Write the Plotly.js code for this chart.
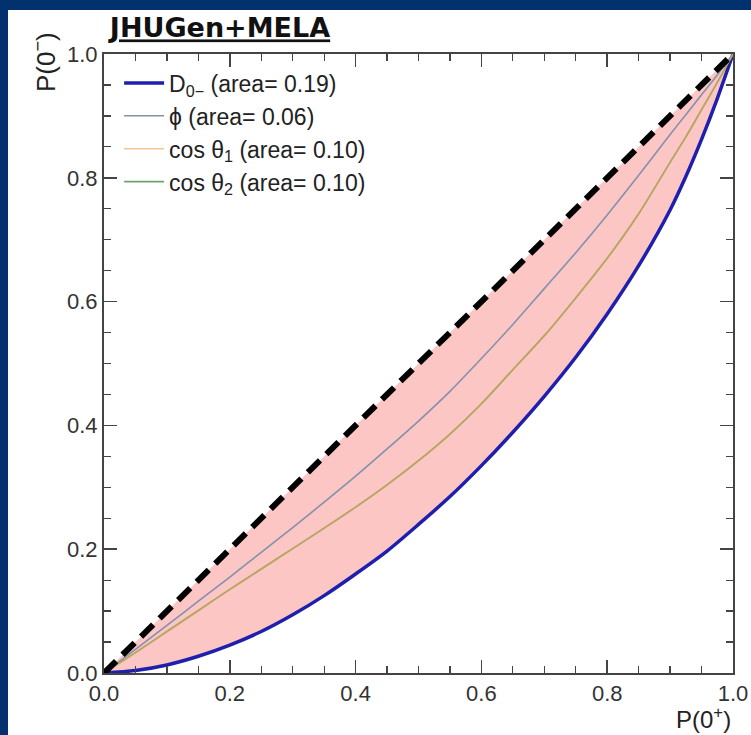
<!DOCTYPE html>
<html>
<head>
<meta charset="utf-8">
<script src="https://cdn.plot.ly/plotly-3.0.1.min.js"></script>
<style>html,body{margin:0;padding:0;background:#03306f;}</style>
</head>
<body>
<div id="chart" style="width:751px;height:735px;"></div>
<script>
// P(0+) sample points shared by the read-off curves
const pPlus = [0, 0.05, 0.1, 0.15, 0.2, 0.25, 0.3, 0.35, 0.4, 0.45, 0.5, 0.55, 0.6, 0.65, 0.7, 0.75, 0.8, 0.85, 0.9, 0.925, 0.95, 0.975, 1.0];
// P(0-) for each discriminant
const yD0m   = [0, 0.004, 0.013, 0.027, 0.045, 0.067, 0.094, 0.125, 0.160, 0.197, 0.240, 0.285, 0.335, 0.389, 0.447, 0.510, 0.580, 0.658, 0.748, 0.802, 0.862, 0.928, 1.0];
const yPhi   = [0, 0.038, 0.077, 0.116, 0.155, 0.195, 0.235, 0.276, 0.318, 0.362, 0.407, 0.455, 0.508, 0.563, 0.621, 0.679, 0.740, 0.804, 0.870, 0.902, 0.934, 0.966, 1.0];
const yCos1  = [0, 0.033, 0.067, 0.101, 0.135, 0.168, 0.201, 0.234, 0.268, 0.304, 0.343, 0.386, 0.435, 0.490, 0.545, 0.606, 0.670, 0.742, 0.825, 0.866, 0.910, 0.954, 1.0];
const yCos2  = [0, 0.033, 0.067, 0.101, 0.135, 0.168, 0.201, 0.234, 0.268, 0.304, 0.343, 0.386, 0.435, 0.490, 0.545, 0.606, 0.670, 0.742, 0.825, 0.866, 0.910, 0.954, 1.0];
// random-guess diagonal
const diagX = [0, 1];
const diagY = [0, 1];
// labels
const names = ['D<sub>0−</sub> (area= 0.19)', 'ϕ (area= 0.06)', 'cos θ<sub>1</sub> (area= 0.10)', 'cos θ<sub>2</sub> (area= 0.10)'];
const titleText = 'JHUGen+MELA';
const xTitle = 'P(0<sup>+</sup>)';
const yTitle = 'P(0<sup>−</sup>)';

const FONT = 'Liberation Sans, Arial, sans-serif';

const traces = [
  {x: diagX, y: diagY, mode: 'lines', line: {width: 0, color: 'rgba(0,0,0,0)'}, showlegend: false, hoverinfo: 'skip'},
  {x: pPlus, y: yD0m, mode: 'lines', fill: 'tonexty', fillcolor: 'rgb(251,198,195)',
   line: {width: 0, color: 'rgba(0,0,0,0)', shape: 'spline', smoothing: 0.8}, showlegend: false, hoverinfo: 'skip'},
  {x: pPlus, y: yD0m, mode: 'lines', name: names[0], line: {color: '#1f1fae', width: 3.5, shape: 'spline', smoothing: 0.8}, legendrank: 1},
  {x: pPlus, y: yPhi, mode: 'lines', name: names[1], line: {color: '#8490ad', width: 1.6, shape: 'spline', smoothing: 0.8}, legendrank: 2},
  {x: pPlus, y: yCos2, mode: 'lines', name: names[3], line: {color: '#6aa56a', width: 1.6, shape: 'spline', smoothing: 0.8}, legendrank: 4},
  {x: pPlus, y: yCos1, mode: 'lines', name: names[2], line: {color: '#e9a558', width: 1.6, shape: 'spline', smoothing: 0.8}, opacity: 0.65, legendrank: 3},
  {x: diagX, y: diagY, mode: 'lines', line: {color: '#000', width: 6, dash: '17px,9px'}, showlegend: false, hoverinfo: 'skip'}
];

function makeAxis() {
  return {
    range: [0, 1], showgrid: false, zeroline: false,
    showline: true, linecolor: '#444', linewidth: 2, mirror: 'allticks',
    ticks: 'inside', ticklen: 13, tickwidth: 1.5, tickcolor: '#444',
    tickmode: 'linear', tick0: 0, dtick: 0.2, tickformat: '.1f',
    tickfont: {family: FONT, size: 22, color: '#333'},
    minor: {dtick: 0.05, ticks: 'inside', ticklen: 7, tickwidth: 1.2, tickcolor: '#444'},
    fixedrange: true
  };
}

const layout = {
  width: 751, height: 735,
  margin: {l: 104, r: 18, t: 54, b: 62, pad: 0},
  paper_bgcolor: '#03306f',
  plot_bgcolor: '#ffffff',
  title: {text: '<b><u>' + titleText + '</u></b>', font: {family: 'DejaVu Sans, sans-serif', size: 27, color: '#111'},
          xref: 'container', yref: 'container', x: 220 / 751, xanchor: 'center', y: 1 - 28 / 735, yanchor: 'middle'},
  xaxis: makeAxis(),
  yaxis: makeAxis(),
  showlegend: true,
  legend: {x: 0.024, y: 0.988, xanchor: 'left', yanchor: 'top', bgcolor: 'rgba(0,0,0,0)', borderwidth: 0,
           traceorder: 'normal',
           font: {family: FONT, size: 23, color: '#222'}, itemwidth: 40, tracegroupgap: 0},
  shapes: [
    {type: 'rect', xref: 'paper', yref: 'paper', x0: -0.1526, x1: 1.03, y0: -0.11, y1: 1.0711,
     fillcolor: '#ffffff', line: {width: 0}, layer: 'below'}
  ],
  annotations: [
    {text: yTitle, xref: 'paper', yref: 'paper', x: -0.0954, y: 0.987, xanchor: 'center', yanchor: 'middle',
     textangle: -90, showarrow: false, font: {family: FONT, size: 26, color: '#222'}},
    {text: xTitle, xref: 'paper', yref: 'paper', x: 1.0, y: -0.073, xanchor: 'right', yanchor: 'middle',
     showarrow: false, font: {family: FONT, size: 24, color: '#222'}}
  ]
};

Plotly.newPlot('chart', traces, layout, {displayModeBar: false, staticPlot: true});
</script>
</body>
</html>
